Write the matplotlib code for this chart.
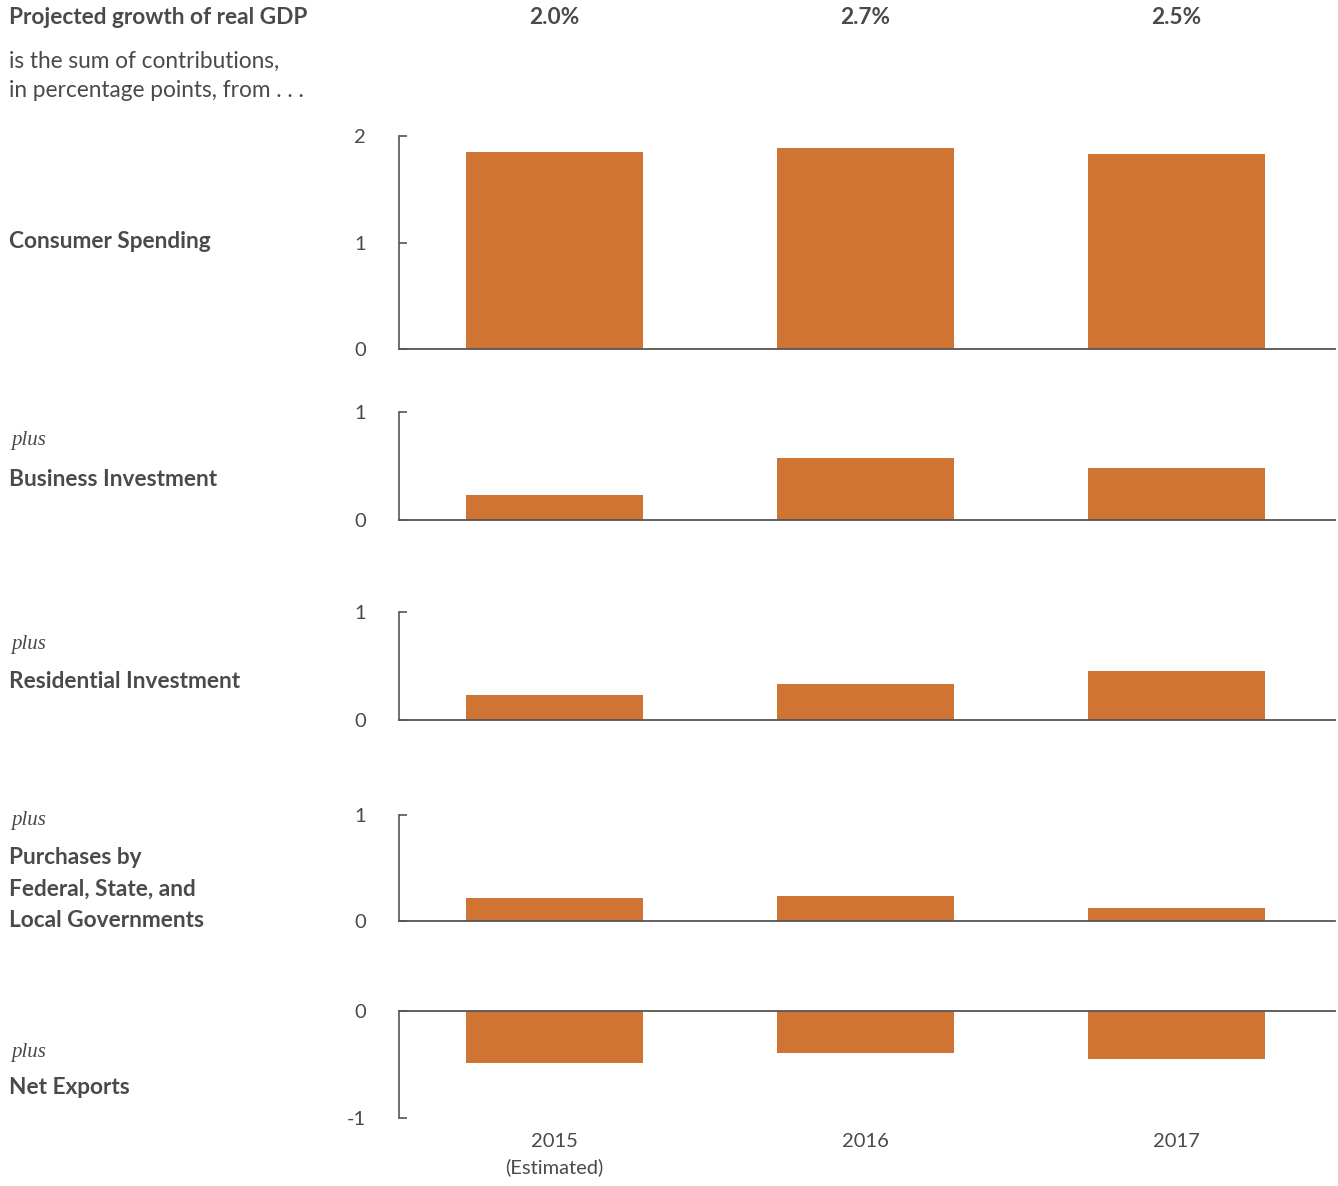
import matplotlib
matplotlib.use("Agg")
import matplotlib.pyplot as plt

# Contributions to real GDP growth, percentage points
years = ["2015\n(Estimated)", "2016", "2017"]
totals = ["2.0%", "2.7%", "2.5%"]

consumer = [1.85, 1.89, 1.83]
business = [0.23, 0.57, 0.48]
residential = [0.23, 0.33, 0.45]
government = [0.22, 0.24, 0.12]
net_exports = [-0.49, -0.39, -0.45]

panel_names = ["Consumer Spending", "Business Investment", "Residential Investment",
               "Purchases by\nFederal, State, and\nLocal Governments", "Net Exports"]
panel_values = [consumer, business, residential, government, net_exports]
panel_ylims = [(0, 2), (0, 1), (0, 1), (0, 1), (-1, 0)]
panel_ticks = [[0, 1, 2], [0, 1], [0, 1], [0, 1], [-1, 0]]

BAR = "#D07433"
TEXT = "#4a4a4a"
LINE = "#555555"

W, H = 1338, 1186
fig = plt.figure(figsize=(W / 100, H / 100), dpi=100)
plt.rcParams["font.family"] = ["Lato", "DejaVu Sans"]

# axes boxes in pixels: (top, bottom) of each panel
boxes = [(136, 349), (412, 520), (612, 720), (815, 921), (1011, 1118)]
left_px, right_px = 399, 1335

# label block centres (pixels from top)
name_y = [241, 479, 682, 889, 1088]
plus_y = [None, 441, 645, 821, 1053]

x = [0, 1, 2]
axes = []
for i, (vals, (top, bot)) in enumerate(zip(panel_values, boxes)):
    ax = fig.add_axes([left_px / W, 1 - bot / H, (right_px - left_px) / W, (bot - top) / H])
    ax.bar(x, vals, width=0.57, color=BAR, zorder=2)
    ax.set_xlim(-0.5, 2.51)
    ax.set_ylim(*panel_ylims[i])
    ax.set_yticks(panel_ticks[i])
    ax.set_yticklabels([str(t) for t in panel_ticks[i]])
    ax.axhline(0, color=LINE, lw=1.3, zorder=3, clip_on=False)
    for s in ["top", "right", "bottom"]:
        ax.spines[s].set_visible(False)
    ax.spines["left"].set_color(LINE)
    ax.spines["left"].set_linewidth(1.2)
    ax.tick_params(axis="y", direction="in", length=6, width=1.2, color=LINE,
                   pad=24, labelsize=14.5, labelcolor=TEXT)
    ax.set_xticks([])
    axes.append(ax)

    fig.text(9 / W, 1 - name_y[i] / H, panel_names[i], ha="left", va="center",
             fontsize=16.3, fontweight="bold", color=TEXT, linespacing=1.6)
    if plus_y[i] is not None:
        fig.text(11 / W, 1 - plus_y[i] / H, "plus", ha="left", va="center",
                 fontsize=15, fontstyle="italic", family="Liberation Serif", color=TEXT)

# year labels under the last panel
last = axes[-1]
last.set_xticks(x)
last.set_xticklabels(years)
last.tick_params(axis="x", length=0, pad=11, labelsize=14.5, labelcolor=TEXT)
for lab in last.get_xticklabels():
    lab.set_linespacing(1.55)
    lab.set_verticalalignment("top")

# header
fig.text(9 / W, 1 - 18 / H, "Projected growth of real GDP", ha="left", va="center",
         fontsize=16.3, fontweight="bold", color=TEXT)
fig.text(9 / W, 1 - 76 / H, "is the sum of contributions,\nin percentage points, from . . .",
         ha="left", va="center", fontsize=16.3, color=TEXT, linespacing=1.5)

top_ax = axes[0]
blend = matplotlib.transforms.blended_transform_factory(top_ax.transData, fig.transFigure)
for xi, t in zip(x, totals):
    top_ax.text(xi, 1 - 17 / H, t, transform=blend, ha="center", va="center",
                fontsize=16.3, fontweight="bold", color=TEXT)

fig.savefig("out.png", dpi=100, facecolor="white")
